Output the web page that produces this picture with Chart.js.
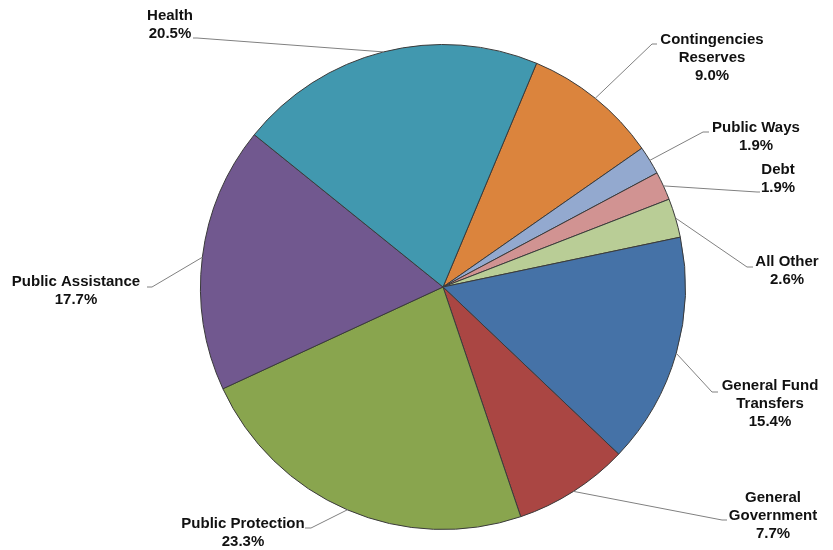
<!DOCTYPE html>
<html>
<head>
<meta charset="utf-8">
<script src="https://cdn.jsdelivr.net/npm/chart.js@4/dist/chart.umd.min.js"></script>
<style>
    html, body { margin: 0; padding: 0; background: #fff; }
    #wrap { width: 833px; height: 550px; position: relative; }
</style>
</head>
<body>
<div id="wrap"><canvas id="budgetPie"></canvas></div>
<script>
// budget shares, clockwise from the top-right slice
const categories = [
    ['Contingencies', 'Reserves'],
    ['Public Ways'],
    ['Debt'],
    ['All Other'],
    ['General Fund', 'Transfers'],
    ['General', 'Government'],
    ['Public Protection'],
    ['Public Assistance'],
    ['Health']
];
const shares = [9.0, 1.9, 1.9, 2.6, 15.4, 7.7, 23.3, 17.7, 20.5];
const sliceColors = ['#DB843D', '#93A9CF', '#D19392', '#B9CD96', '#4572A7', '#AA4643', '#89A54E', '#71588F', '#4198AF'];

// where each label sits: text centre x, first line y, and the bend of its leader line
const labelSpots = [
    { x: 712, y: 40,  bend: [652, 44],  tip: [657, 44] },
    { x: 756, y: 128, bend: [703, 132], tip: [709, 132] },
    { x: 778, y: 170, bend: [757, 192], tip: [760, 192] },
    { x: 787, y: 262, bend: [747, 267], tip: [753, 267] },
    { x: 770, y: 386, bend: [712, 392], tip: [718, 392] },
    { x: 773, y: 498, bend: [722, 520], tip: [727, 520] },
    { x: 243, y: 524, bend: [311, 528], tip: [305, 528] },
    { x: 76,  y: 282, bend: [152, 287], tip: [147, 287] },
    { x: 170, y: 16,  bend: [197, 38],  tip: [193, 38] }
];

const leaderLabels = {
    id: 'leaderLabels',
    afterDatasetsDraw(chart) {
        const ctx = chart.ctx;
        const arcs = chart.getDatasetMeta(0).data;
        ctx.save();
        arcs.forEach((arc, i) => {
            const spot = labelSpots[i];
            const mid = (arc.startAngle + arc.endAngle) / 2;
            const ex = arc.x + Math.cos(mid) * arc.outerRadius;
            const ey = arc.y + Math.sin(mid) * arc.outerRadius;

            ctx.strokeStyle = '#808080';
            ctx.lineWidth = 1;
            ctx.beginPath();
            ctx.moveTo(ex, ey);
            ctx.lineTo(spot.bend[0], spot.bend[1]);
            ctx.lineTo(spot.tip[0], spot.tip[1]);
            ctx.stroke();

            const lines = categories[i].concat([shares[i].toFixed(1) + '%']);
            ctx.fillStyle = '#111';
            ctx.font = 'bold 15px "Liberation Sans", Arial, sans-serif';
            ctx.textAlign = 'center';
            ctx.textBaseline = 'middle';
            lines.forEach((t, k) => ctx.fillText(t, spot.x, spot.y + k * 18));
        });
        ctx.restore();
    }
};

new Chart(document.getElementById('budgetPie'), {
    type: 'pie',
    data: {
        labels: categories.map(c => c.join(' ')),
        datasets: [{
            data: shares,
            backgroundColor: sliceColors,
            borderColor: '#3a3a3a',
            borderWidth: 1
        }]
    },
    options: {
        responsive: true,
        maintainAspectRatio: false,
        animation: false,
        rotation: 22.7,
        layout: { padding: { top: 44, bottom: 20, left: 200, right: 147 } },
        plugins: {
            legend: { display: false },
            tooltip: { enabled: false }
        }
    },
    plugins: [leaderLabels]
});
</script>
</body>
</html>
